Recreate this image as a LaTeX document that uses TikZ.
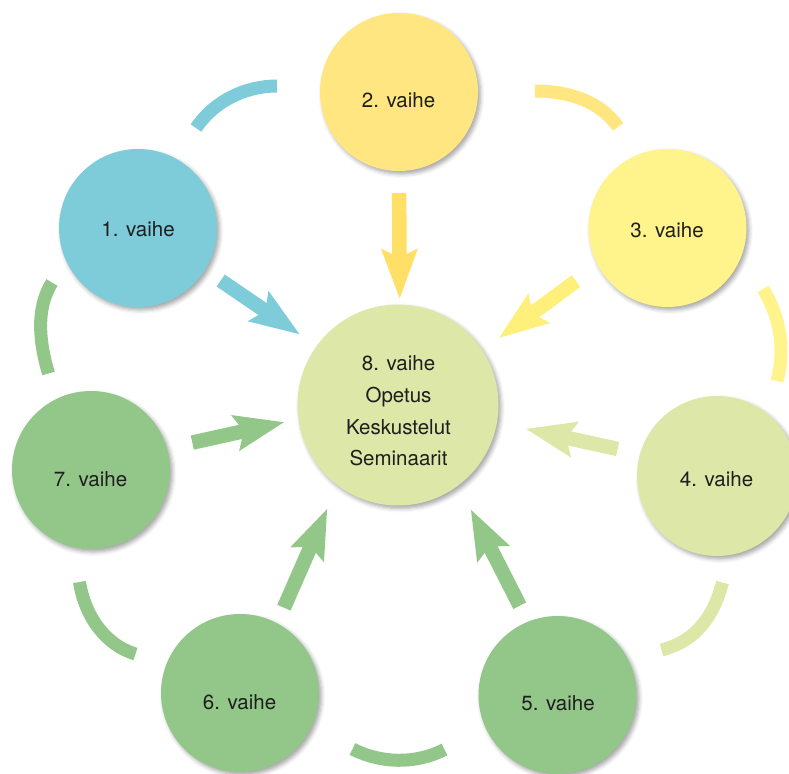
\documentclass[tikz,border=0pt]{standalone}
\usepackage{fontspec}
\setmainfont{TeX Gyre Heros}
\usetikzlibrary{arrows.meta,shadows.blur}
\definecolor{cblue}{HTML}{7ECBDA}
\definecolor{cgold}{HTML}{FFE680}
\definecolor{cgoldarr}{HTML}{FFE066}
\definecolor{cyel}{HTML}{FFF38C}
\definecolor{cyelarr}{HTML}{FFF07C}
\definecolor{cpale}{HTML}{DDE8A8}
\definecolor{cgreen}{HTML}{93C78A}
\definecolor{ctext}{HTML}{1E1E1E}
\begin{document}
\begin{tikzpicture}[x=1pt,y=-1pt,
  stage/.style={circle, minimum size=158pt, inner sep=0pt, outer sep=0pt,
     blur shadow={shadow xshift=2.5pt, shadow yshift=-3pt, shadow blur radius=4pt, shadow opacity=35}},
  lbl/.style={font=\fontsize{20.5}{31.8}\selectfont, text=ctext, inner sep=0pt, align=center},
  flow/.style={line width=14.5pt, -{Stealth[length=50pt,width=37pt,inset=9pt,line width=0pt]}},
  ring/.style={line width=13pt}]
\useasboundingbox (0,0) rectangle (789,773);
\clip (0,0) rectangle (789,773);

% arcs of the cycle
\coordinate (a12s) at (196,128);   \coordinate (a12e) at (277,86);
\coordinate (a23s) at (535,91);    \coordinate (a23e) at (618,127);
\coordinate (a34s) at (763,289);   \coordinate (a34e) at (777,381);
\coordinate (a45s) at (722.5,582.5); \coordinate (a45e) at (661.5,650);
\coordinate (a56s) at (444.5,749.5); \coordinate (a56e) at (352.5,749);
\coordinate (a67s) at (79.5,582);  \coordinate (a67e) at (135.5,654);
\coordinate (a71s) at (52,282.5);  \coordinate (a71e) at (48.5,373.5);

\draw[ring, cblue]  (a12s) .. controls (214,101.3) and (245,86) .. (a12e);
\draw[ring, cgold]  (a23s) .. controls (567,91) and (600.1,100.5) .. (a23e);
\draw[ring, cyel]   (a34s) .. controls (780.2,316.5) and (785.6,349.8) .. (a34e);
\draw[ring, cpale]  (a45s) .. controls (713.5,616.8) and (695.9,641.1) .. (a45e);
\draw[ring, cgreen] (a56s) .. controls (415.6,764.2) and (381.4,763.7) .. (a56e);
\draw[ring, cgreen] (a67s) .. controls (84.6,614.5) and (104,644.6) .. (a67e);
\draw[ring, cgreen] (a71s) .. controls (35.2,309.4) and (39.6,343.1) .. (a71e);

% stage circles
\node[stage, fill=cblue] (n1) at (138,228) {};
\node[stage, fill=cgold] (n2) at (399,92) {};
\node[stage, fill=cyel] (n3) at (667.5,228) {};
\node[stage, fill=cpale, minimum size=160pt] (n4) at (717,476) {};
\node[stage, fill=cgreen] (n5) at (557.5,695) {};
\node[stage, fill=cgreen] (n6) at (240,693) {};
\node[stage, fill=cgreen] (n7) at (91,470) {};
\node[stage, fill=cpale, minimum size=201pt] (n8) at (398,405) {};

% labels
\node[lbl] (t1) at (138,229.5) {1. vaihe};
\node[lbl] (t2) at (398.5,100) {2. vaihe};
\node[lbl] (t3) at (667,229.8) {3. vaihe};
\node[lbl] (t4) at (716.5,479) {4. vaihe};
\node[lbl] (t5) at (558,703) {5. vaihe};
\node[lbl] (t6) at (239.5,701.7) {6. vaihe};
\node[lbl] (t7) at (90.5,479) {7. vaihe};
\node[lbl] (t8) at (398.5,411) {8. vaihe\\Opetus\\Keskustelut\\Seminaarit};

% arrows to the centre
\draw[flow, draw=cblue, fill=cblue, shorten <=19pt, shorten >=21pt] (n1.-32) -- (n8.144);
\draw[flow, draw=cgoldarr, fill=cgoldarr, shorten <=22pt, shorten >=6pt] (n2.-90) -- (n8.89);
\draw[flow, draw=cyelarr, fill=cyelarr, shorten <=27pt, shorten >=21pt] (n3.208.5) -- (n8.33.3);
\draw[flow, draw=cpale, fill=cpale, shorten <=23pt, shorten >=30pt] (n4.164.7) -- (n8.-10.1);
\draw[flow, draw=cgreen, fill=cgreen, shorten <=18pt, shorten >=27.6pt] (n5.112.4) -- (n8.-53.2);
\draw[flow, draw=cgreen, fill=cgreen, shorten <=17pt, shorten >=26pt] (n6.62.6) -- (n8.233.9);
\draw[flow, draw=cgreen, fill=cgreen, shorten <=26pt, shorten >=15pt] (n7.16) -- (n8.188.4);
\end{tikzpicture}
\end{document}
